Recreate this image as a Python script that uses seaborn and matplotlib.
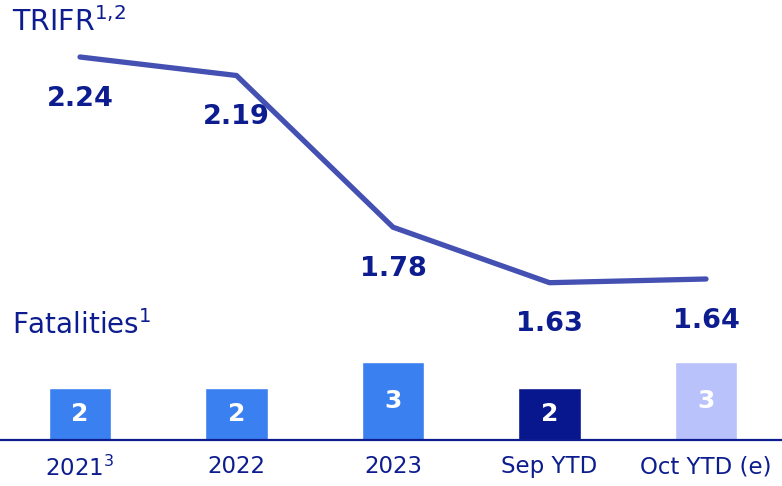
import numpy as np
import pandas as pd
import matplotlib
matplotlib.use("Agg")
import matplotlib.pyplot as plt
import seaborn as sns

# chart data
periods = ["2021", "2022", "2023", "Sep YTD", "Oct YTD (e)"]
tick_labels = ["2021$^{3}$", "2022", "2023", "Sep YTD", "Oct YTD (e)"]
trifr = [2.24, 2.19, 1.78, 1.63, 1.64]
fatalities = [2, 2, 3, 2, 3]
bar_colors = ["#3A80F0", "#3A80F0", "#3A80F0", "#08178E", "#B9C2FB"]

NAVY = "#0D1D8F"
LINE = "#4450B2"

sns.set_theme(style="white")
plt.rcParams["font.family"] = ["DejaVu Sans"]
plt.rcParams["mathtext.default"] = "regular"

df = pd.DataFrame({"period": periods, "pos": np.arange(len(periods)),
                   "trifr": trifr, "fatalities": fatalities})

fig = plt.figure(figsize=(7.82, 4.86), dpi=100)
W, H = 782, 486
xlim = (-80 / 156.5, (W - 80) / 156.5)

# -----------------------------
# TRIFR line (top)
# -----------------------------
ax_top = fig.add_axes([0, (H - 320) / H, 1, 300 / H])
sns.lineplot(data=df, x="pos", y="trifr", ax=ax_top, color=LINE,
             linewidth=3.8, solid_capstyle="round", marker=None)
ax_top.set_xlim(*xlim)
ax_top.set_ylim(2.24 - 263 / 370, 2.24 + 37 / 370)
ax_top.axis("off")
for x, v in zip(df["pos"], df["trifr"]):
    ax_top.annotate(f"{v:.2f}", (x, v), xytext=(0, -30), textcoords="offset points",
                    ha="center", va="center", fontsize=19.5, fontweight="bold", color=NAVY)

# -----------------------------
# Fatalities bars (bottom)
# -----------------------------
ax_bot = fig.add_axes([0, (H - 440) / H, 1, 104 / H])
sns.barplot(data=df, x="period", y="fatalities", hue="period", palette=bar_colors,
            order=periods, width=0.4, ax=ax_bot, legend=False, saturation=1)
ax_bot.set_xlim(*xlim)
ax_bot.set_ylim(0, 4)
for x, v in enumerate(fatalities):
    ax_bot.text(x, v / 2, str(v), ha="center", va="center", fontsize=18,
                fontweight="bold", color="white")
for s in ["top", "left", "right"]:
    ax_bot.spines[s].set_visible(False)
ax_bot.spines["bottom"].set_color(NAVY)
ax_bot.spines["bottom"].set_linewidth(1.6)
ax_bot.set_yticks([])
ax_bot.set_xlabel("")
ax_bot.set_ylabel("")
ax_bot.set_xticks(range(len(periods)))
ax_bot.set_xticklabels(tick_labels, fontsize=16.5, color=NAVY)
ax_bot.tick_params(axis="x", length=0, pad=11)

# titles
fig.text(12 / W, 1 - 22 / H, "TRIFR$^{1{,}2}$", fontsize=20.5, color=NAVY, va="center", ha="left")
fig.text(12 / W, 1 - 325 / H, "Fatalities$^{1}$", fontsize=20, color=NAVY, va="center", ha="left")

fig.savefig("out.png", dpi=100)
